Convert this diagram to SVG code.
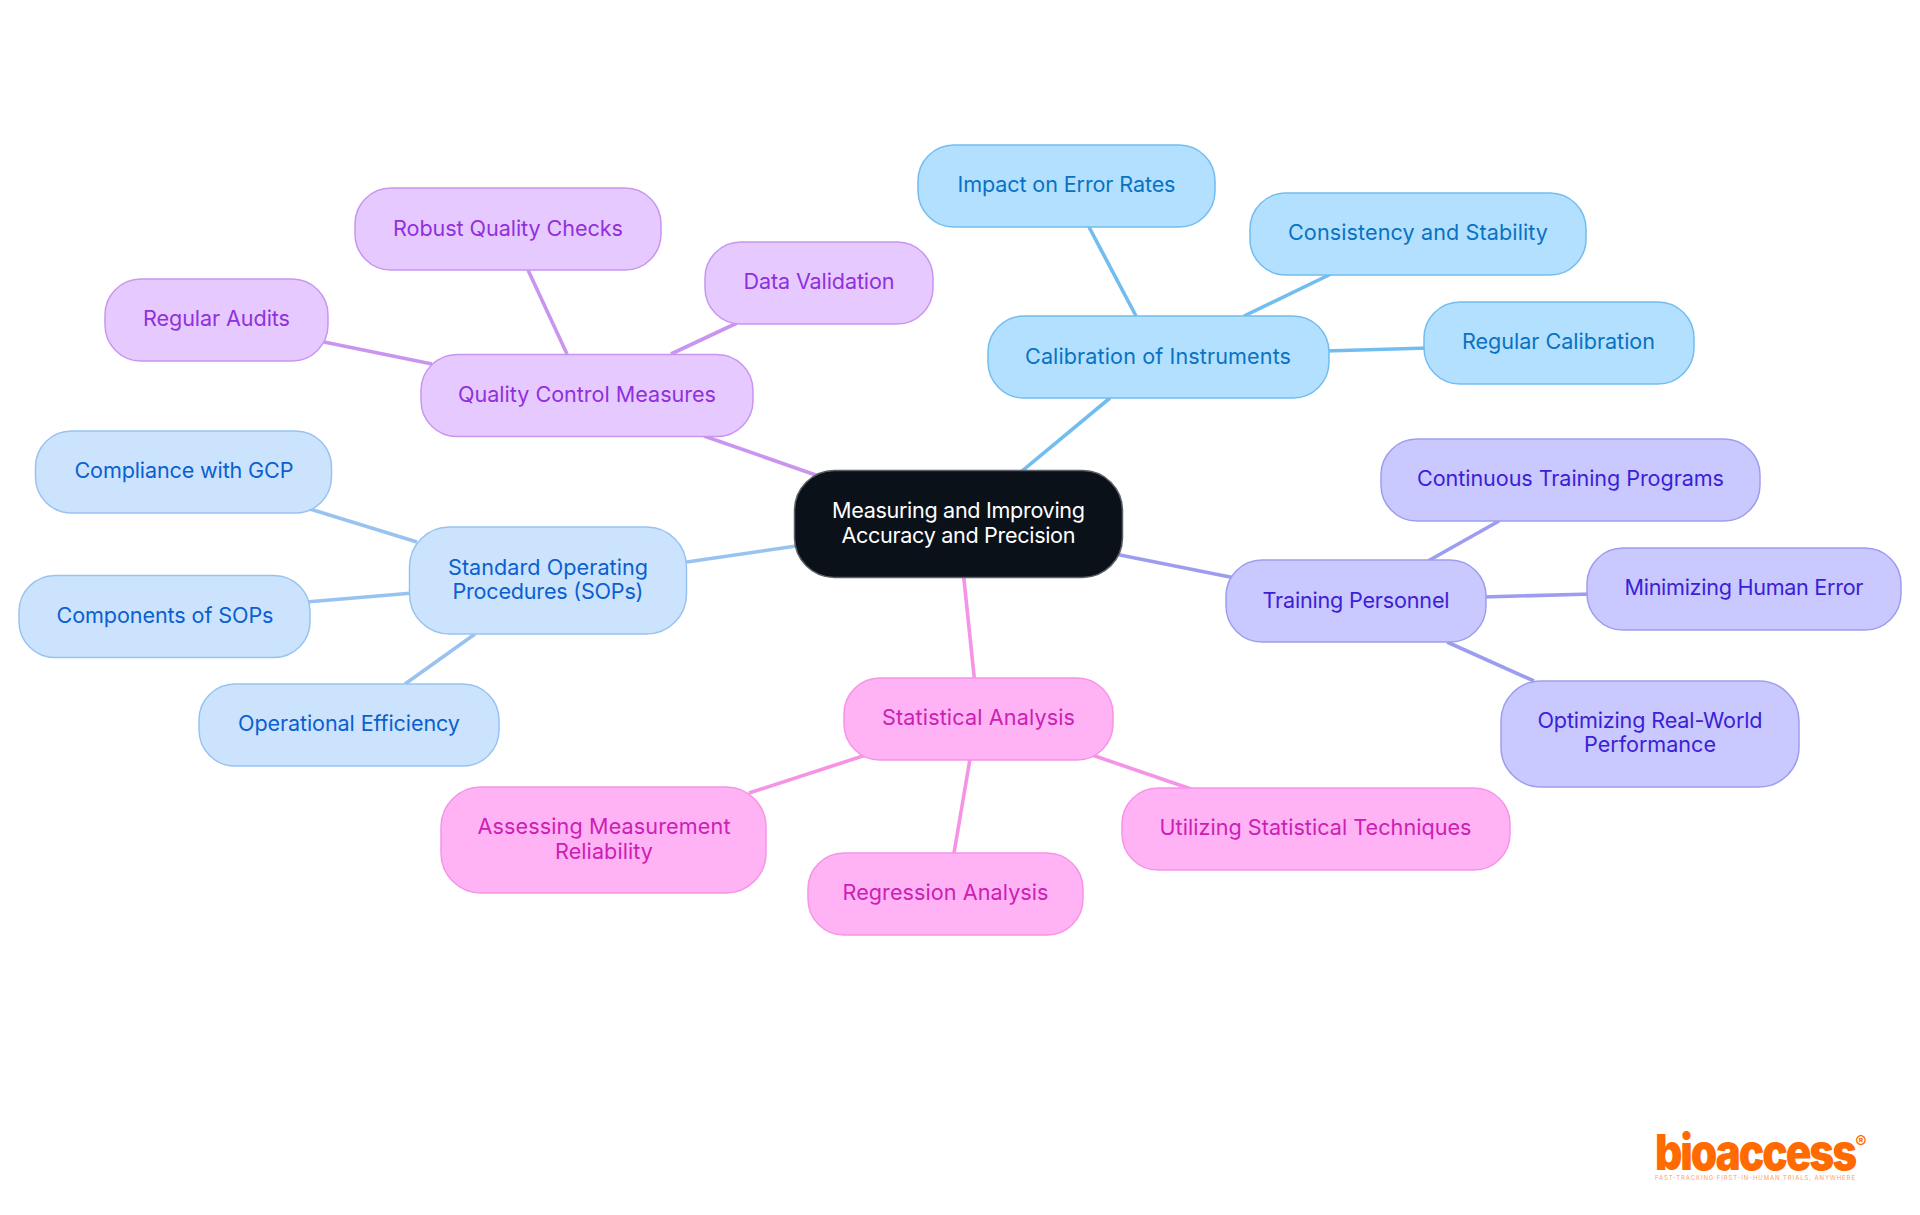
<svg xmlns="http://www.w3.org/2000/svg" width="1920" height="1215" viewBox="0 0 1920 1215">
<style>
text{font-family:Inter,"Liberation Sans",sans-serif;font-size:21.6px;font-weight:400;text-anchor:middle}
rect{stroke-width:1.5;rx:36px;ry:36px}
.l{fill:none;stroke-width:3.6;stroke-linecap:butt}
.root rect{fill:#0b1119;stroke:#5c6066;rx:40px;ry:40px}.root text{fill:#fff}
.tall rect{rx:40px;ry:40px}
.c1 rect{fill:#b3e0ff;stroke:#72bdf0}.c1 text{fill:#0a72c2}
.c2 rect{fill:#cce3fd;stroke:#98c3f1}.c2 text{fill:#0b5fd0}
.c3 rect{fill:#e6caff;stroke:#c995ef}.c3 text{fill:#9030dd}
.c4 rect{fill:#c9c9ff;stroke:#9d9df0}.c4 text{fill:#3c20d6}
.c5 rect{fill:#ffb3f5;stroke:#f594e6}.c5 text{fill:#cc20b4}
.s1{stroke:#72bdf0}.s2{stroke:#98c3f1}.s3{stroke:#c995ef}.s4{stroke:#9d9df0}.s5{stroke:#f594e6}
.logo{font-weight:900;fill:#ff6b00}
</style>
<rect width="1920" height="1215" fill="#fff" stroke="none" style="rx:0;ry:0"/>
<g id="connectors">
<line class="l s3" x1="704" y1="436" x2="830" y2="480"/>
<line class="l s1" x1="1110" y1="398" x2="1010" y2="481"/>
<line class="l s2" x1="680" y1="563" x2="810" y2="544"/>
<line class="l s4" x1="1110" y1="553" x2="1240" y2="579"/>
<line class="l s5" x1="963" y1="570" x2="975" y2="685"/>
<line class="l s1" x1="1089" y1="227" x2="1136" y2="316"/>
<line class="l s1" x1="1331" y1="274" x2="1244" y2="316"/>
<line class="l s1" x1="1325" y1="351" x2="1428" y2="348"/>
<line class="l s4" x1="1499" y1="521" x2="1428" y2="561"/>
<line class="l s4" x1="1483" y1="597" x2="1591" y2="594"/>
<line class="l s4" x1="1447" y1="642" x2="1534" y2="681"/>
<line class="l s5" x1="866" y1="755" x2="749" y2="793"/>
<line class="l s5" x1="970" y1="759" x2="954" y2="853"/>
<line class="l s5" x1="1092" y1="755" x2="1194" y2="790"/>
<line class="l s3" x1="528" y1="270" x2="567" y2="354"/>
<line class="l s3" x1="737" y1="323" x2="671" y2="354"/>
<line class="l s3" x1="324" y1="342" x2="432" y2="364"/>
<line class="l s2" x1="310" y1="509" x2="417" y2="542"/>
<line class="l s2" x1="306" y1="602" x2="413" y2="593"/>
<line class="l s2" x1="475" y1="634" x2="405" y2="684"/>
</g>
<g id="root" class="root"><rect x="794.5" y="470.5" width="328" height="107"/><text x="958.5" y="518" textLength="253">Measuring and Improving</text><text x="958.5" y="543" textLength="234">Accuracy and Precision</text></g>
<g id="calibration" class="c1"><rect x="988" y="316" width="341" height="82"/><text x="1158" y="364" textLength="266">Calibration of Instruments</text></g>
<g id="impact" class="c1"><rect x="918" y="145" width="297" height="82"/><text x="1066.5" y="192" textLength="218">Impact on Error Rates</text></g>
<g id="consistency" class="c1"><rect x="1250" y="193" width="336" height="82"/><text x="1418" y="240" textLength="260">Consistency and Stability</text></g>
<g id="regular-calibration" class="c1"><rect x="1424" y="302" width="270" height="82"/><text x="1558.5" y="349" textLength="193">Regular Calibration</text></g>
<g id="training" class="c4"><rect x="1226" y="560" width="260" height="82"/><text x="1356" y="608" textLength="187">Training Personnel</text></g>
<g id="continuous" class="c4"><rect x="1381" y="439" width="379" height="82"/><text x="1570.5" y="486" textLength="307">Continuous Training Programs</text></g>
<g id="minimizing" class="c4"><rect x="1587" y="548" width="314" height="82"/><text x="1744" y="595" textLength="239">Minimizing Human Error</text></g>
<g id="optimizing" class="c4 tall"><rect x="1501" y="681" width="298" height="106"/><text x="1650" y="728" textLength="225">Optimizing Real-World</text><text x="1650" y="752" textLength="132">Performance</text></g>
<g id="statistical" class="c5"><rect x="844" y="678" width="269" height="82"/><text x="978.5" y="725" textLength="193">Statistical Analysis</text></g>
<g id="assessing" class="c5 tall"><rect x="441" y="787" width="325" height="106"/><text x="604" y="834" textLength="253">Assessing Measurement</text><text x="604" y="859" textLength="98">Reliability</text></g>
<g id="regression" class="c5"><rect x="808" y="853" width="275" height="82"/><text x="945.5" y="900" textLength="206">Regression Analysis</text></g>
<g id="utilizing" class="c5"><rect x="1122" y="788" width="388" height="82"/><text x="1315.5" y="835" textLength="312">Utilizing Statistical Techniques</text></g>
<g id="quality" class="c3"><rect x="421" y="354.5" width="332" height="82"/><text x="587" y="402" textLength="258">Quality Control Measures</text></g>
<g id="robust" class="c3"><rect x="355" y="188" width="306" height="82"/><text x="508" y="236" textLength="230">Robust Quality Checks</text></g>
<g id="data" class="c3"><rect x="705" y="242" width="228" height="82"/><text x="819" y="289" textLength="151">Data Validation</text></g>
<g id="audits" class="c3"><rect x="105" y="279" width="223" height="82"/><text x="216.5" y="326" textLength="147">Regular Audits</text></g>
<g id="sop" class="c2 tall"><rect x="409.5" y="527" width="277" height="107"/><text x="548" y="575" textLength="200">Standard Operating</text><text x="548" y="599" textLength="191">Procedures (SOPs)</text></g>
<g id="compliance" class="c2"><rect x="35.5" y="431" width="296" height="82"/><text x="184" y="478" textLength="219">Compliance with GCP</text></g>
<g id="components" class="c2"><rect x="19" y="575.5" width="291" height="82"/><text x="165" y="623" textLength="217">Components of SOPs</text></g>
<g id="operational" class="c2"><rect x="199" y="684" width="300" height="82"/><text x="349" y="731" textLength="222">Operational Efficiency</text></g>
<g id="logo"><text class="logo" x="1755" y="1170" textLength="200" lengthAdjust="spacingAndGlyphs" style="font-size:50px;font-weight:900;letter-spacing:-2.5px">bioaccess</text><text class="logo" x="1861" y="1148" style="font-size:17px;font-weight:700">®</text><text x="1755" y="1180" textLength="200" style="font-size:6px;font-weight:400;fill:#ffa066">FAST-TRACKING FIRST-IN-HUMAN TRIALS, ANYWHERE</text></g>
</svg>
